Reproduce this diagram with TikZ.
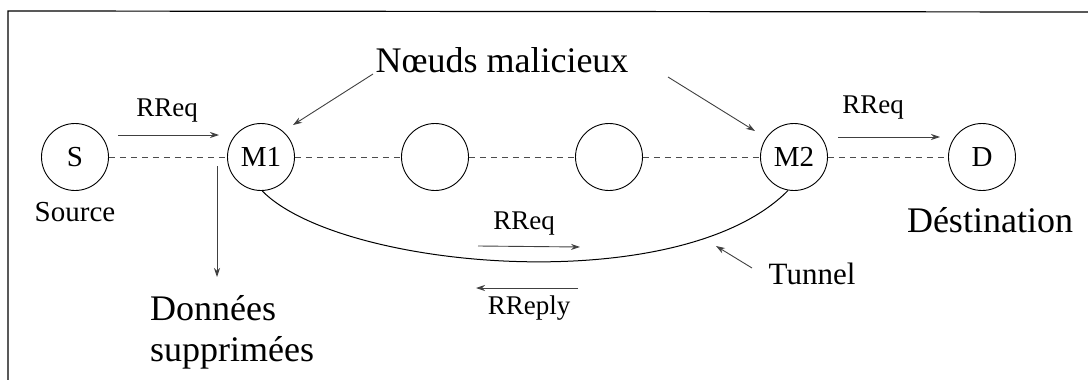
\documentclass[tikz,border=0pt]{standalone}
\usepackage{fontspec}
\setmainfont{Liberation Serif}
\usetikzlibrary{arrows.meta}
\begin{document}
\begin{tikzpicture}[x=1pt,y=-1pt,
  nd/.style={circle,draw,line width=0.9pt,minimum size=67pt,inner sep=0pt,font=\fontsize{29}{31}\selectfont},
  dashlink/.style={draw=black!70,dash pattern=on 6pt off 5pt,line width=0.8pt},
  arr/.style={draw=black!75,line width=0.9pt,-{Stealth[length=9pt,width=6pt]}},
  small/.style={font=\fontsize{27}{29}\selectfont},
  big/.style={font=\fontsize{36}{38}\selectfont}]
\useasboundingbox (0,0) rectangle (1088,380);
\draw[line width=1.2pt] (8,380) -- (8,11) -- (1088,12);
% nodes
\node[nd] (S) at (75,157) {S};
\node[nd] (M1) at (261,157) {M1};
\node[nd] (A) at (435,157) {};
\node[nd] (B) at (609,157) {};
\node[nd] (M2) at (794,157) {M2};
\node[nd] (D) at (982,157) {D};
% dashed links
\draw[dashlink] (S) -- (M1);
\draw[dashlink] (M1) -- (A);
\draw[dashlink] (A) -- (B);
\draw[dashlink] (B) -- (M2);
\draw[dashlink] (M2) -- (D);
% tunnel
\draw[line width=1pt] (M1.-88) .. controls (340,270) and (680,300) .. (M2.-100);
% labels
\node[font=\fontsize{29}{31}\selectfont] (src) at (75,212) {Source};
\node[big] (dst) at (990,220) {Déstination};
\node[big] (mal) at (502,60) {Nœuds malicieux};
\node[big,anchor=base west,inner sep=0pt] (don) at (150,320) {Données};
\node[big,anchor=base west,inner sep=0pt] (sup) at (150,361) {supprimées};
\node[font=\fontsize{31}{33}\selectfont] (tun) at (812,274) {Tunnel};
\node[small] (r1) at (167,111) {RReq};
\node[small] (r2) at (873,108) {RReq};
\node[small] (r3) at (524,224) {RReq};
\node[small] (r4) at (529,308) {RReply};
% arrow endpoints
\coordinate (a1s) at (118,135); \coordinate (a1e) at (219,135);
\coordinate (a2s) at (838,137); \coordinate (a2e) at (940,137);
\coordinate (a3s) at (478,246); \coordinate (a3e) at (580,247);
\coordinate (a4s) at (578,288); \coordinate (a4e) at (476,288);
\coordinate (ds) at (217,166); \coordinate (de) at (217,277);
\coordinate (m1s) at (373,74); \coordinate (m1e) at (293,125);
\coordinate (m2s) at (668,77); \coordinate (m2e) at (755,131);
\coordinate (ts) at (752,268); \coordinate (te) at (716,246);
\draw[arr] (a1s) -- (a1e);
\draw[arr] (a2s) -- (a2e);
\draw[arr] (a3s) -- (a3e);
\draw[arr] (a4s) -- (a4e);
\draw[arr] (ds) -- (de);
\draw[arr] (m1s) -- (m1e);
\draw[arr] (m2s) -- (m2e);
\draw[arr] (ts) -- (te);
\end{tikzpicture}
\end{document}
